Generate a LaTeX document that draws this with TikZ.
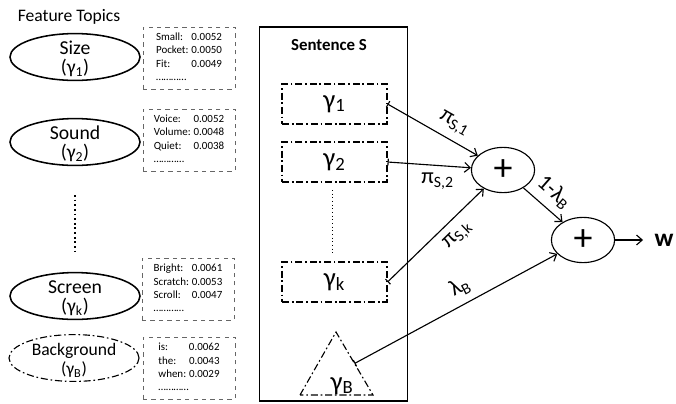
\documentclass[tikz,border=0pt]{standalone}
\usepackage{fontspec}
\setmainfont{Carlito}
\usetikzlibrary{positioning, arrows.meta, shapes.geometric, calc}
\tikzset{
  dashdot/.style={dash pattern=on 5pt off 2pt on 1.2pt off 2pt},
  topic/.style={
    draw, ellipse, line width=1.1pt, align=center,
    inner xsep=0pt, inner ysep=-6pt,
    minimum width=3.25cm, minimum height=1.17cm,
    font=\fontsize{14}{14}\selectfont
  },
  bgtopic/.style={topic, line width=0.8pt, dashdot, font=\fontsize{12.5}{14}\selectfont},
  % Top words of a topic
  wordbox/.style={
    draw=black!60, dashed, inner sep=1pt,
    minimum width=2.3cm, minimum height=1.55cm,
    font=\fontsize{7.8}{9.5}\selectfont
  },
  % Topic slots inside the sentence
  slot/.style={
    draw, line width=0.9pt, dashdot,
    minimum width=2.62cm, minimum height=1cm,
    font=\fontsize{19}{19}\selectfont
  },
  mixer/.style={
    draw, ellipse, line width=0.8pt, inner sep=0pt,
    minimum width=1.58cm, minimum height=1.13cm,
    font=\fontsize{27}{27}\selectfont
  },
  weight/.style={
    {Bar[width=5pt]}-{Straight Barb[length=4pt,width=7pt]}, line width=0.8pt
  },
  wlabel/.style={font=\fontsize{16}{16}\selectfont, inner sep=5pt},
}
% two-line topic text
\newcommand{\topictext}[2]{\rule{0pt}{12pt}#1\\(γ\textsubscript{#2})}
\newcommand{\topicwords}[4]{%
  \begin{tabular}{@{}l@{\hspace{2pt}}r@{}}
    #1\\ #2\\ #3\\ \multicolumn{2}{@{}l}{#4}
  \end{tabular}%
}

\begin{document}
\begin{tikzpicture}[x=0.025cm, y=-0.025cm]
  \useasboundingbox (0,0) rectangle (676,403);

  %% ── Feature topics ──
  \node[font=\fontsize{12.5}{14}\selectfont] (title) at (69,17) {Feature Topics};

  \node[topic]   (size)   at (75,57)  {\topictext{Size}{1}};
  \node[topic]   (sound)  at (75,142) {\topictext{Sound}{2}};
  \node[topic]   (screen) at (75,296) {\topictext{Screen}{k}};
  \node[bgtopic] (backgr) at (74,358) {\topictext{Background}{B}};
  \draw[dotted, line width=1.3pt] (75,195) -- (75,252);

  \node[wordbox] (wSize)   at (189,58)
    {\topicwords{Small: & 0.0052}{Pocket: & 0.0050}{Fit: & 0.0049}{\ldots\ldots\ldots\ldots}};
  \node[wordbox] (wSound)  at (189,140)
    {\topicwords{Voice: & 0.0052}{Volume: & 0.0048}{Quiet: & 0.0038}{\ldots\ldots\ldots\ldots}};
  \node[wordbox] (wScreen) at (188,289)
    {\topicwords{Bright: & 0.0061}{Scratch: & 0.0053}{Scroll: & 0.0047}{\ldots\ldots\ldots\ldots}};
  \node[wordbox] (wBackgr) at (189,368)
    {\topicwords{is: & 0.0062}{the: & 0.0043}{when: & 0.0029}{\ldots\ldots\ldots\ldots}};

  %% ── Sentence ──
  \node[draw, line width=0.8pt, minimum width=3.72cm, minimum height=9.35cm] (sent) at (333.5,214) {};
  \node[font=\fontsize{12}{13}\selectfont\bfseries] (sentTitle) at (329,45) {Sentence S};

  \node[slot] (s1) at (334.5,104) {γ\textsubscript{1}};
  \node[slot] (s2) at (334.5,162) {γ\textsubscript{2}};
  \node[slot] (sk) at (334.5,282) {γ\textsubscript{k}};
  \draw[dotted, line width=0.6pt] (332,190) -- (332,253);

  \coordinate (triTop) at (336,332);
  \coordinate (triL)   at (300,395);
  \coordinate (triR)   at (373,395);
  \draw[line width=0.8pt, dashdot] (triL) -- (triTop) -- (triR) -- cycle;
  \node[font=\fontsize{19}{19}\selectfont] (sB) at (342,386) {γ\textsubscript{B}};
  \coordinate (triOut) at ($(triTop)!0.5!(triR)$);

  %% ── Mixtures ──
  \node[mixer] (sum1) at (503,170) {+};
  \node[mixer] (sum2) at (583,240) {+};
  \node[font=\fontsize{18}{18}\selectfont\bfseries, inner sep=8pt] (w) at (664,240) {w};

  %% ── Weights ──
  \draw[weight] (s1.east) -- (sum1) node[wlabel, pos=0.65, above, sloped] {π\textsubscript{S,1}};
  \draw[weight] (s2.east) -- (sum1) node[wlabel, pos=0.6, below] {π\textsubscript{S,2}};
  \draw[weight] (sk.east) -- (sum1) node[wlabel, pos=0.62, below, sloped] {π\textsubscript{S,k}};
  \draw[weight] (triOut) -- (sum2) node[wlabel, pos=0.56, above, sloped] {λ\textsubscript{B}};
  \draw[-{Straight Barb[length=4pt,width=7pt]}, line width=0.8pt] (sum1) -- (sum2)
    node[wlabel, pos=0.5, above, sloped] {1-λ\textsubscript{B}};
  \draw[-{Straight Barb[length=4pt,width=7pt]}, line width=0.8pt] (sum2) -- (w);

\end{tikzpicture}
\end{document}
